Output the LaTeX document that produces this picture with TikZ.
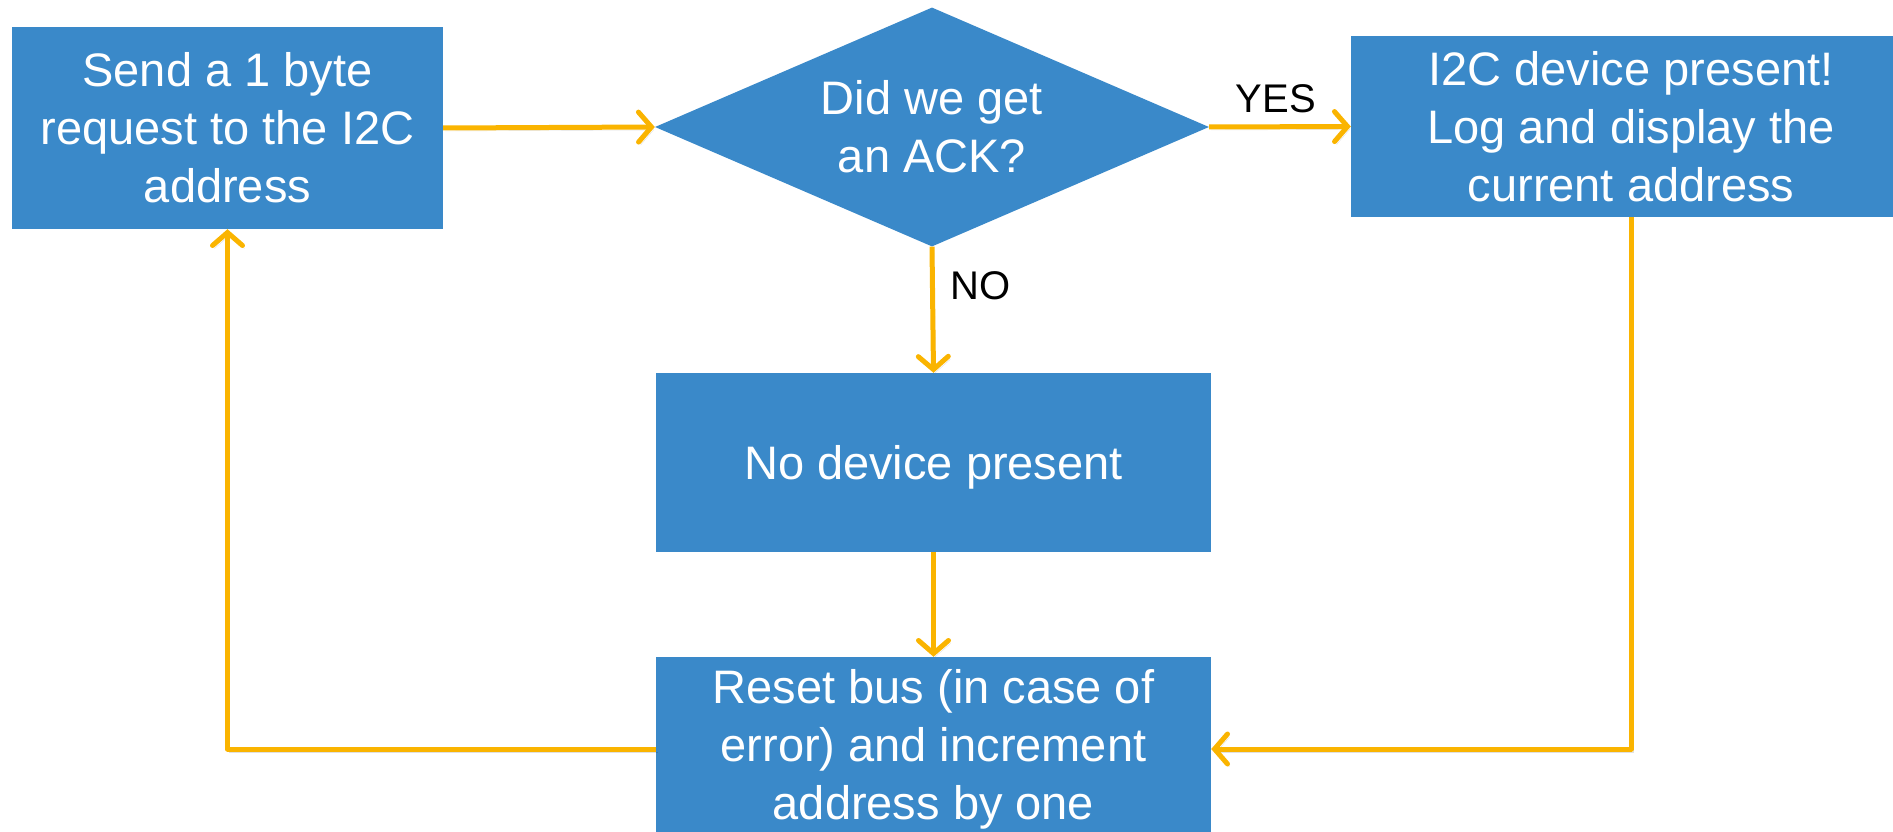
\documentclass[tikz,border=0pt]{standalone}
\usepackage{fontspec}
\setmainfont{Liberation Sans}
\usetikzlibrary{shapes.geometric,arrows.meta}

\definecolor{boxblue}{HTML}{3A89C9}
\definecolor{flowgold}{HTML}{FAB400}

\begin{document}
\begin{tikzpicture}[
            x=1pt, y=-1pt,
            box/.style={fill=boxblue, text=white, align=center, inner sep=0pt,
                        font=\fontsize{47}{58}\selectfont},
            decision/.style={box, shape=diamond, aspect=2.32},
            flow/.style={draw=flowgold, line width=5pt, line join=round,
                         -{Straight Barb[length=13pt, width=30pt, line cap=round]},
                         preaction={draw=black, draw opacity=0.12,
                                    transform canvas={shift={(2,3)}}}},
            lbl/.style={font=\fontsize{40}{44}\selectfont, text=black, inner sep=0pt}
        ]
        \useasboundingbox (0,0) rectangle (1893,832);

        % --- boxes ---
        \node[box, minimum width=431pt, minimum height=202pt] (send) at (227.5,128)
            {Send a 1 byte\\request to the I2C\\address};
        \node[decision, minimum width=554pt, minimum height=239pt] (ack) at (932,127)
            {Did we get\\an ACK?};
        \node[box, minimum width=560pt, minimum height=181pt] (found) at (1631,126.5)
            {I2C device present!\\Log and display the\\current address};
        \node[box, text depth=0pt, minimum width=555pt, minimum height=179pt] (none) at (933.5,462.5)
            {No device present};
        \node[box, minimum width=555pt, minimum height=184pt] (reset) at (933.5,749)
            {Reset bus (in case of\\error) and increment\\address by one};

        % --- connectors ---
        \draw[flow] (send.east) -- (ack.west);
        \draw[flow] (ack.east) -- (found.west);
        \draw[flow] (ack.south) -- (none.north);
        \draw[flow] (none.south) -- (reset.north);
        \draw[flow] (found.south) |- (reset.east);
        \draw[flow] (reset.west) -| (send.south);

        \node[lbl] (yes) at (1276,99) {YES};
        \node[lbl, anchor=west] (no) at (950,286) {NO};
        \end{tikzpicture}
\end{document}
